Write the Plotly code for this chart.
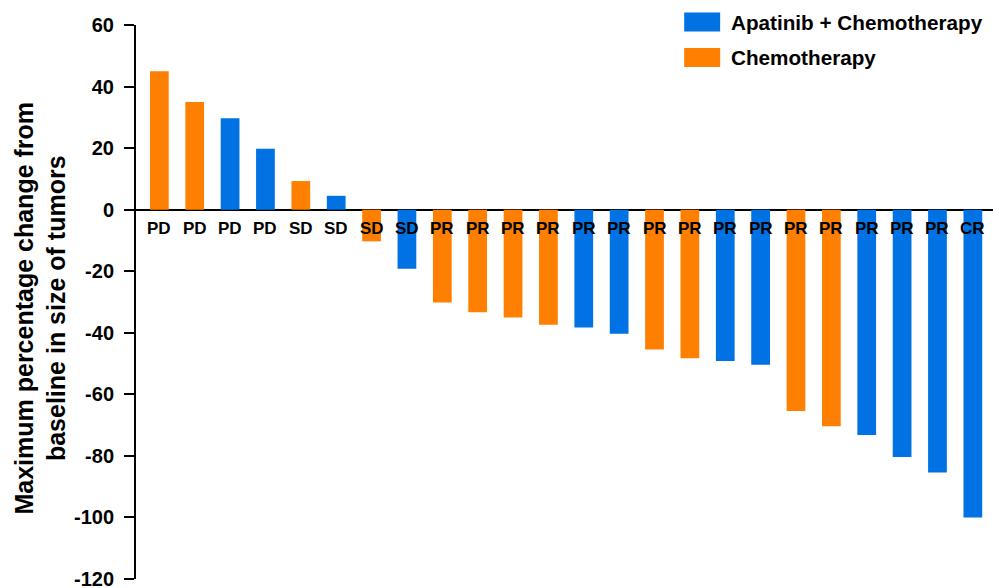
import plotly.graph_objects as go

# Best overall response per patient, sorted from largest growth to largest shrinkage
responses = ["PD", "PD", "PD", "PD", "SD", "SD", "SD", "SD",
             "PR", "PR", "PR", "PR", "PR", "PR", "PR", "PR",
             "PR", "PR", "PR", "PR", "PR", "PR", "PR", "CR"]
changes = [45, 35, 29.7, 19.8, 9.3, 4.5, -10.3, -19.2,
           -30.2, -33.3, -35.0, -37.4, -38.3, -40.3, -45.4, -48.3,
           -49.2, -50.4, -65.4, -70.4, -73.2, -80.4, -85.4, -100]
groups = ["C", "C", "A", "A", "C", "A", "C", "A",
          "C", "C", "C", "C", "A", "A", "C", "C",
          "A", "A", "C", "C", "A", "A", "A", "A"]

group_names = {"A": "Apatinib + Chemotherapy", "C": "Chemotherapy"}
group_colors = {"A": "#0072E3", "C": "#FF8000"}

y_ticks = [-120, -100, -80, -60, -40, -20, 0, 20, 40, 60]
y_tick_text = ["-120", "-100", "-80", "-60", "-40", "-20", "0", "20", "40", "60"]

FONT = "Liberation Sans, Arial, Helvetica, sans-serif"

fig = go.Figure()
for g in ["A", "C"]:
    idx = [i for i, v in enumerate(groups) if v == g]
    fig.add_trace(go.Bar(
        x=idx,
        y=[changes[i] for i in idx],
        width=0.53,
        marker=dict(color=group_colors[g], line=dict(width=0)),
        name=group_names[g],
        showlegend=False,
    ))

# Response labels just under the zero line
for i, r in enumerate(responses):
    fig.add_annotation(
        x=i, y=0, xref="x", yref="y", text=r, showarrow=False,
        yanchor="middle", yshift=-19,
        font=dict(family=FONT, size=17, color="black", weight="bold"),
    )

# Plot-area geometry in pixels, used to place the legend in paper units
L, R, T, B = 135.5, 993.0, 24.5, 579.5
def px_x(p):
    return (p - L) / (R - L)
def px_y(p):
    return (B - p) / (B - T)

legend_rows = [("A", 12, 31), ("C", 47.5, 66.5)]
for g, y0, y1 in legend_rows:
    fig.add_shape(type="rect", xref="paper", yref="paper",
                  x0=px_x(684), x1=px_x(720), y0=px_y(y1), y1=px_y(y0),
                  fillcolor=group_colors[g], line=dict(width=0))
    fig.add_annotation(
        xref="paper", yref="paper", x=px_x(729), y=px_y((y0 + y1) / 2),
        xanchor="left", yanchor="middle", showarrow=False,
        text=group_names[g],
        font=dict(family=FONT, size=20.7, color="black", weight="bold"),
    )

# Y-axis title
fig.add_annotation(
    xref="paper", yref="paper", x=px_x(40), y=px_y(308),
    xanchor="center", yanchor="middle", showarrow=False, textangle=-90,
    text="Maximum percentage change from<br>baseline in size of tumors",
    font=dict(family=FONT, size=25, color="black", weight="bold"),
)

fig.update_layout(
    width=996, height=588,
    margin=dict(l=L, r=996 - R, t=T, b=588 - B, pad=0, autoexpand=False),
    paper_bgcolor="white", plot_bgcolor="white",
    barmode="overlay",
    showlegend=False,
    font=dict(family=FONT, color="black"),
    xaxis=dict(range=[-0.66, 23.57], visible=False, fixedrange=True,
               automargin=False),
    yaxis=dict(
        range=[-120, 60], tickvals=y_ticks, ticktext=y_tick_text,
        automargin=False,
        showgrid=False, showline=True, linecolor="black", linewidth=2,
        ticks="outside", ticklen=10, tickwidth=2, tickcolor="black",
        ticklabelstandoff=6, ticklabeloverflow="allow",
        tickfont=dict(family=FONT, size=20, color="black", weight="bold"),
        zeroline=True, zerolinecolor="black", zerolinewidth=2,
    ),
)

fig.write_html("out.html")
